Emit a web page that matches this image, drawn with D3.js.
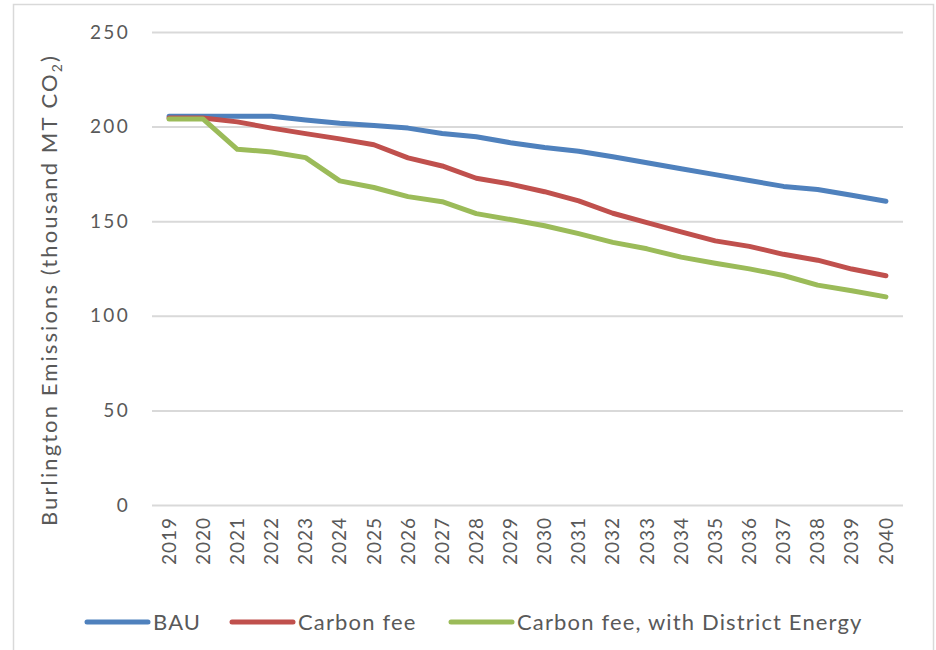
<!DOCTYPE html>
<html lang="en">
<head>
  <meta charset="UTF-8">
  <title>Burlington Emissions</title>
  <script src="https://cdn.jsdelivr.net/npm/d3@7"></script>
  <style>
    body { margin: 0; background: #fff; }
    text { font-family: Lato, "Open Sans", sans-serif; fill: #595959; }
    .grid line { stroke: #d9d9d9; stroke-width: 2; }
    .series { fill: none; stroke-width: 5; stroke-linejoin: round; stroke-linecap: round; }
  </style>
</head>
<body>
<svg width="936" height="650"></svg>
<script>
  // years on the x axis
  const years = d3.range(2019, 2041).map(String);

  // thousand MT CO2
  const bau = [205.5, 205.5, 205.5, 205.5, 203.5, 201.8, 200.6, 199.2, 196.4, 194.6, 191.5,
    189.0, 187.0, 184.1, 180.9, 177.7, 174.6, 171.5, 168.4, 166.8, 163.7, 160.5];
  const carbonFee = [204.5, 204.5, 202.5, 199.2, 196.3, 193.5, 190.4, 183.5, 179.2, 172.7, 169.6,
    165.6, 160.7, 154.2, 149.2, 144.4, 139.6, 136.7, 132.5, 129.4, 124.7, 121.2];
  const carbonFeeDE = [204.0, 204.0, 188.0, 186.6, 183.6, 171.3, 167.8, 163.0, 160.3, 154.0, 150.9,
    147.6, 143.4, 138.8, 135.4, 131.0, 127.8, 124.8, 121.3, 116.2, 113.2, 110.0];

  const seriesNames = ["BAU", "Carbon fee", "Carbon fee, with District Energy"];
  const seriesColors = ["#4f81bd", "#c0504d", "#9bbb59"];
  const yTicks = [0, 50, 100, 150, 200, 250];

  const svg = d3.select("svg");

  // chart frame
  svg.append("rect")
    .attr("x", 13.5).attr("y", 4.5)
    .attr("width", 920).attr("height", 660)
    .attr("fill", "none").attr("stroke", "#d9d9d9").attr("stroke-width", 1.5);

  const plot = { left: 152, right: 903, top: 32, bottom: 505 };

  const x = d3.scaleBand().domain(years).range([plot.left, plot.right]);
  const y = d3.scaleLinear().domain([0, 250]).range([plot.bottom, plot.top]);

  // gridlines + y labels
  const yAxis = svg.append("g")
    .attr("class", "grid")
    .attr("transform", `translate(${plot.left},0)`)
    .call(d3.axisLeft(y).tickValues(yTicks).tickSize(-(plot.right - plot.left)).tickPadding(22));
  yAxis.select(".domain").remove();
  yAxis.selectAll("text")
    .attr("font-size", 19)
    .attr("letter-spacing", 2.3)
    .style("fill", "#595959");

  // x labels, rotated
  const xAxis = svg.append("g")
    .attr("transform", `translate(0,${plot.bottom})`)
    .call(d3.axisBottom(x).tickSize(0).tickPadding(0));
  xAxis.select(".domain").remove();
  xAxis.selectAll("text")
    .attr("font-size", 19)
    .attr("letter-spacing", 1)
    .attr("transform", "rotate(-90)")
    .attr("x", -12).attr("y", 0).attr("dy", "0.35em")
    .attr("text-anchor", "end");

  // y title
  const title = svg.append("text")
    .attr("transform", "translate(57,290) rotate(-90)")
    .attr("text-anchor", "middle")
    .attr("font-size", 22)
    .attr("letter-spacing", 2.1);
  title.append("tspan").text("Burlington Emissions (thousand MT CO");
  title.append("tspan").attr("font-size", 14).attr("dy", 5).text("2");
  title.append("tspan").attr("dy", -5).text(")");

  // lines
  const allSeries = [bau, carbonFee, carbonFeeDE];
  const line = d3.line()
    .x((d, i) => x(years[i]) + x.bandwidth() / 2)
    .y(d => y(d));

  svg.selectAll("path.series")
    .data(allSeries)
    .join("path")
    .attr("class", "series")
    .attr("stroke", (d, i) => seriesColors[i])
    .attr("d", line);

  // legend
  const legendX = [87, 232, 451];
  const legend = svg.selectAll("g.legend")
    .data(seriesNames)
    .join("g")
    .attr("class", "legend")
    .attr("transform", (d, i) => `translate(${legendX[i]},622)`);
  legend.append("line")
    .attr("x1", 0).attr("x2", 61)
    .attr("stroke", (d, i) => seriesColors[i])
    .attr("stroke-width", 5).attr("stroke-linecap", "round");
  legend.append("text")
    .attr("x", 66).attr("dy", "0.35em")
    .attr("font-size", 22)
    .attr("letter-spacing", 1.15)
    .text(d => d);
</script>
</body>
</html>
